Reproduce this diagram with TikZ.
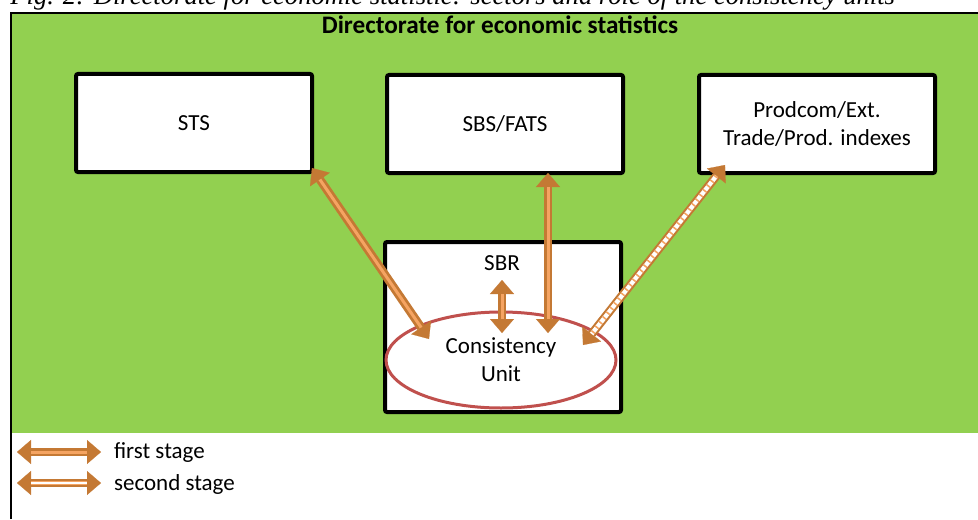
\documentclass[tikz,border=0pt]{standalone}
\usepackage{fontspec}
\setmainfont{Carlito}
\newfontfamily\capfont{Liberation Serif}
\usetikzlibrary{positioning,arrows.meta,shapes.geometric}
\definecolor{dirgreen}{RGB}{146,208,80}
\definecolor{cured}{RGB}{192,80,77}
\definecolor{arrowbrown}{RGB}{196,121,52}
\definecolor{arrowlight}{RGB}{245,164,98}

\tikzset{
  unitbox/.style={draw,line width=2pt,fill=white,rounded corners=1pt,
    minimum width=118pt,minimum height=49pt,align=center},
  stagebody/.style={draw=arrowbrown,line width=4.3pt,
    {Triangle[width=12pt,length=7pt,line width=0.1pt]}-{Triangle[width=12pt,length=7pt,line width=0.1pt]}},
  firstcore/.style={draw=arrowlight,line width=1.5pt,shorten <=7pt,shorten >=7pt},
  secondcore/.style={draw=white,line width=2.2pt,shorten <=7pt,shorten >=7pt},
  seconddash/.style={draw=arrowlight,line width=2.2pt,dash pattern=on 0.8pt off 2.2pt,shorten <=7pt,shorten >=7pt}
}

\begin{document}
\begin{tikzpicture}[x=0.5pt,y=-0.5pt,font=\fontsize{11.5}{14}\selectfont]
\useasboundingbox (0,0) rectangle (978,519);
\clip (0,0) rectangle (978,519);

% Caption (cut at the top)
\node[font=\capfont\itshape\fontsize{13.3}{15}\selectfont,anchor=base west,inner sep=0pt] (caption) at (10,5)
  {Fig. 2: Directorate for economic statistic: sectors and role of the consistency units};

% Frame
\fill[dirgreen] (11,13) rectangle (978,433);
\draw[line width=1.2pt] (11,519) -- (11,13) -- (978,13);
\node[font=\bfseries\fontsize{12.6}{15}\selectfont] (title) at (500,25) {Directorate for economic statistics};

% Boxes
\node[unitbox] (sts) at (194,123) {STS};
\node[unitbox] (sbs) at (505,124) {SBS/FATS};
\node[unitbox] (prod) at (817,124) {Prodcom/Ext.\\Trade/Prod. indexes};
\node[unitbox,minimum height=85pt] (sbr) at (503,327) {};
\node (sbrtext) at (502,263) {SBR};
\node[ellipse,draw=cured,line width=1.5pt,fill=white,minimum width=115pt,minimum height=48pt,
  align=center,inner sep=0pt] (cu) at (501,360) {Consistency\\Unit};

% Arrow ends
\coordinate (sts-end) at (312,168);
\coordinate (cu-sts) at (429,339);
\coordinate (sbs-end) at (548,173);
\coordinate (cu-sbs) at (548,333);
\coordinate (sbr-end) at (502,280);
\coordinate (cu-sbr) at (502,333);
\coordinate (prod-end) at (725,165);
\coordinate (cu-prod) at (583,345);

% First stage arrows
\draw[stagebody] (sts-end) -- (cu-sts);
\draw[firstcore] (sts-end) -- (cu-sts);
\draw[stagebody] (sbs-end) -- (cu-sbs);
\draw[firstcore] (sbs-end) -- (cu-sbs);
\draw[stagebody] (sbr-end) -- (cu-sbr);
\draw[firstcore] (sbr-end) -- (cu-sbr);

% Second stage arrow
\draw[stagebody] (prod-end) -- (cu-prod);
\draw[secondcore] (prod-end) -- (cu-prod);
\draw[seconddash] (prod-end) -- (cu-prod);

% Legend
\coordinate (lg1-a) at (17,452);
\coordinate (lg1-b) at (101,452);
\coordinate (lg2-a) at (17,483);
\coordinate (lg2-b) at (101,483);
\draw[stagebody] (lg1-a) -- (lg1-b);
\draw[firstcore] (lg1-a) -- (lg1-b);
\draw[stagebody] (lg2-a) -- (lg2-b);
\draw[firstcore,line width=2pt] (lg2-a) -- (lg2-b);
\draw[draw=white,line width=0.6pt,shorten <=7pt,shorten >=7pt] (lg2-a) -- (lg2-b);
\node[anchor=west] (first) at (107,453) {first stage};
\node[anchor=west] (second) at (107,484) {second stage};
\end{tikzpicture}
\end{document}
